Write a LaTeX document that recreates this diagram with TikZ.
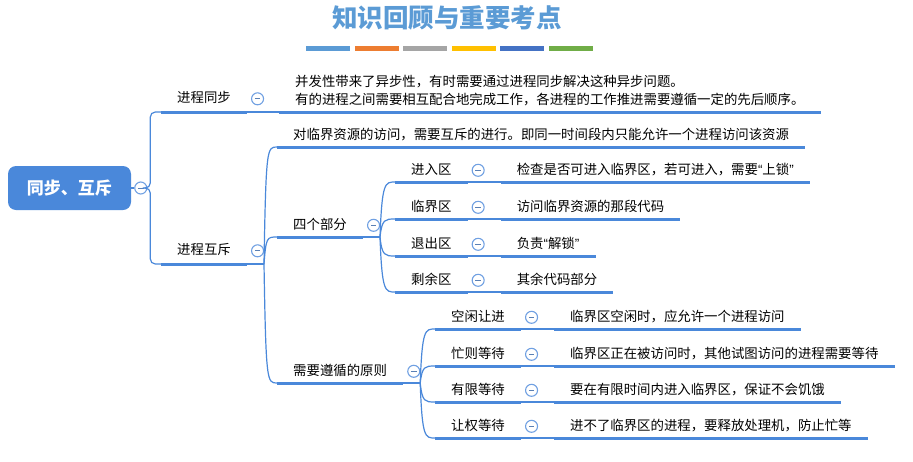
\documentclass[tikz,border=0pt]{standalone}
\usepackage{fontspec}
\setmainfont{Noto Sans CJK SC}
\newfontfamily\quotefont{Liberation Sans}
\usetikzlibrary{positioning,calc}
\definecolor{mapblue}{RGB}{74,136,218}
\definecolor{knobblue}{RGB}{112,160,226}
\definecolor{titleblue}{RGB}{91,155,213}
\definecolor{barorange}{RGB}{237,125,49}
\definecolor{bargray}{RGB}{165,165,165}
\definecolor{baryellow}{RGB}{255,192,0}
\definecolor{barnavy}{RGB}{68,114,196}
\definecolor{bargreen}{RGB}{112,173,71}
\newcommand{\qopen}{{\quotefont “}}
\newcommand{\qclose}{{\quotefont ”}}

\begin{document}
\begin{tikzpicture}
 [x=1pt,y=-1pt,
  root node/.style={rounded corners=8pt, fill=mapblue, text=white, minimum width=123pt, minimum height=44pt, inner sep=0pt, font=\fontsize{17}{20}\selectfont\bfseries},
  topic node/.style={anchor=south west, text=black, inner xsep=16pt, inner ysep=4.5pt, text height=11pt, text depth=3pt, font=\fontsize{13.4}{18}\selectfont,
    append after command={(\tikzlastnode.south west) edge[under line] (\tikzlastnode.south east)}},
  first node/.style={topic node, inner ysep=6pt},
  under line/.style={draw=mapblue, line width=3pt},
  thin line/.style={draw=mapblue, line width=1.2pt},
  twig/.style={to path={.. controls ($(\tikztostart|-\tikztotarget)+(2,0)$) and ($(\tikztotarget)+(-10,0)$) .. (\tikztotarget)}},
  knob/.style={circle, draw=knobblue, line width=1.1pt, fill=white, minimum size=12pt, inner sep=0pt,
    path picture={\draw[knobblue!80!black, line width=1pt] ([xshift=-2.8pt]path picture bounding box.center) -- ([xshift=2.8pt]path picture bounding box.center);}}]
\useasboundingbox (0,0) rectangle (913,461);

\node[text=titleblue, font=\fontsize{25.5}{30}\selectfont\bfseries] (title) at (447,18) {知识回顾与重要考点};
\foreach \c [count=\i from 0] in {titleblue,barorange,bargray,baryellow,barnavy,bargreen}
  \fill[\c] (306+\i*48.6,46) rectangle ++(44,5);

\node[root node] (root) at (69.5,188) {同步、互斥};
\node[knob, right=3pt of root] (rootknob) {};
\draw[thin line] (root.east) -- (rootknob.west);

\node[first node] (sync) at (161,112) {进程同步};
\node[first node] (mutex) at (161,264) {进程互斥};
\draw[thin line, rounded corners=5pt] (rootknob.east) -- ++(3,0) |- (sync.south west);
\draw[thin line, rounded corners=5pt] (rootknob.east) -- ++(3,0) |- (mutex.south west);

\node[knob, right=4pt of sync] (syncknob) {};
\node[topic node, align=left, text height=29pt] (syncleaf) at ([xshift=32pt]sync.south east)
  {并发性带来了异步性，有时需要通过进程同步解决这种异步问题。\\有的进程之间需要相互配合地完成工作，各进程的工作推进需要遵循一定的先后顺序。};
\draw[thin line] (sync.south east) -- (syncleaf.south west);

\node[knob, right=4pt of mutex] (mutexknob) {};
\coordinate (mutexfork) at ([xshift=17pt]mutex.south east);
\draw[thin line] (mutex.south east) -- (mutexfork);
\node[topic node] (access) at (277,147) {对临界资源的访问，需要互斥的进行。即同一时间段内只能允许一个进程访问该资源};
\node[topic node] (parts) at (277,237) {四个部分};
\node[topic node] (rules) at (277,383) {需要遵循的原则};
\draw[thin line] (mutexfork) to[twig] (access.south west);
\draw[thin line] (mutexfork) to[twig] (parts.south west);
\draw[thin line] (mutexfork) to[twig] (rules.south west);

\node[knob, right=4pt of parts] (partsknob) {};
\coordinate (partsfork) at ([xshift=17pt]parts.south east);
\draw[thin line] (parts.south east) -- (partsfork);
\node[topic node] (entry) at (395,182) {进入区};
\node[topic node] (critical) at (395,219) {临界区};
\node[topic node] (exit) at (395,256) {退出区};
\node[topic node] (remainder) at (395,292) {剩余区};
\draw[thin line] (partsfork) to[twig] (entry.south west);
\draw[thin line] (partsfork) to[twig] (critical.south west);
\draw[thin line] (partsfork) to[twig] (exit.south west);
\draw[thin line] (partsfork) to[twig] (remainder.south west);

\node[knob, right=4pt of entry] (entryknob) {};
\node[knob, right=4pt of critical] (criticalknob) {};
\node[knob, right=4pt of exit] (exitknob) {};
\node[knob, right=4pt of remainder] (remainderknob) {};
\node[topic node] (entryleaf) at ([xshift=33pt]entry.south east) {检查是否可进入临界区，若可进入，需要\qopen 上锁\qclose};
\node[topic node] (criticalleaf) at ([xshift=33pt]critical.south east) {访问临界资源的那段代码};
\node[topic node] (exitleaf) at ([xshift=33pt]exit.south east) {负责\qopen 解锁\qclose};
\node[topic node] (remainderleaf) at ([xshift=33pt]remainder.south east) {其余代码部分};
\draw[thin line] (entry.south east) -- (entryleaf.south west);
\draw[thin line] (critical.south east) -- (criticalleaf.south west);
\draw[thin line] (exit.south east) -- (exitleaf.south west);
\draw[thin line] (remainder.south east) -- (remainderleaf.south west);

\node[knob, right=4pt of rules] (rulesknob) {};
\coordinate (rulesfork) at ([xshift=17pt]rules.south east);
\draw[thin line] (rules.south east) -- (rulesfork);
\node[topic node] (idle) at (435,329) {空闲让进};
\node[topic node] (busy) at (435,366) {忙则等待};
\node[topic node] (bounded) at (435,402) {有限等待};
\node[topic node] (yielding) at (435,438) {让权等待};
\draw[thin line] (rulesfork) to[twig] (idle.south west);
\draw[thin line] (rulesfork) to[twig] (busy.south west);
\draw[thin line] (rulesfork) to[twig] (bounded.south west);
\draw[thin line] (rulesfork) to[twig] (yielding.south west);

\node[knob, right=4pt of idle] (idleknob) {};
\node[knob, right=4pt of busy] (busyknob) {};
\node[knob, right=4pt of bounded] (boundedknob) {};
\node[knob, right=4pt of yielding] (yieldingknob) {};
\node[topic node] (idleleaf) at ([xshift=33pt]idle.south east) {临界区空闲时，应允许一个进程访问};
\node[topic node] (busyleaf) at ([xshift=33pt]busy.south east) {临界区正在被访问时，其他试图访问的进程需要等待};
\node[topic node] (boundedleaf) at ([xshift=33pt]bounded.south east) {要在有限时间内进入临界区，保证不会饥饿};
\node[topic node] (yieldingleaf) at ([xshift=33pt]yielding.south east) {进不了临界区的进程，要释放处理机，防止忙等};
\draw[thin line] (idle.south east) -- (idleleaf.south west);
\draw[thin line] (busy.south east) -- (busyleaf.south west);
\draw[thin line] (bounded.south east) -- (boundedleaf.south west);
\draw[thin line] (yielding.south east) -- (yieldingleaf.south west);

\end{tikzpicture}
\end{document}
